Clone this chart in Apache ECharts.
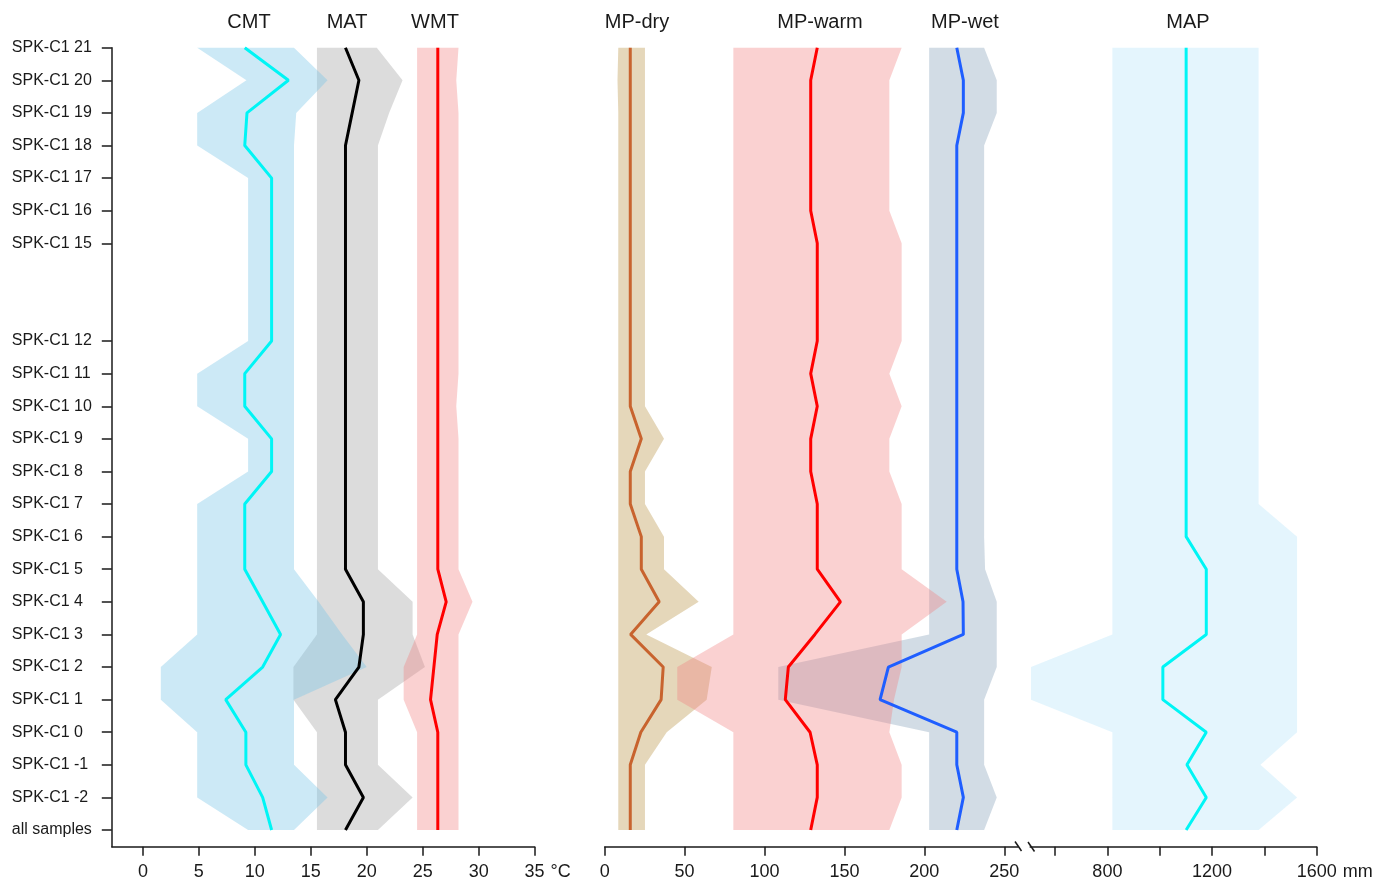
<!DOCTYPE html>
<html><head><meta charset="utf-8">
<script src="https://cdn.jsdelivr.net/npm/echarts@6/dist/echarts.min.js"></script>
<style>html,body{margin:0;padding:0;background:#fff}#c{width:1387px;height:882px}</style>
</head><body><div id="c"></div>
<script>
// sample positions (-3 = "all samples")
const depths = [21,20,19,18,17,16,15,12,11,10,9,8,7,6,5,4,3,2,1,0,-1,-2,-3];
const sampleLabels = ['SPK-C1 21','SPK-C1 20','SPK-C1 19','SPK-C1 18','SPK-C1 17','SPK-C1 16','SPK-C1 15','SPK-C1 12','SPK-C1 11','SPK-C1 10','SPK-C1 9','SPK-C1 8','SPK-C1 7','SPK-C1 6','SPK-C1 5','SPK-C1 4','SPK-C1 3','SPK-C1 2','SPK-C1 1','SPK-C1 0','SPK-C1 -1','SPK-C1 -2','all samples'];

// temperature (°C)
const cmtMean = [9.1,13.0,9.3,9.1,11.5,11.5,11.5,11.5,9.1,9.1,11.5,11.5,9.1,9.1,9.1,10.7,12.3,10.7,7.4,9.2,9.2,10.7,11.5];
const cmtLow  = [4.85,9.25,4.85,4.85,9.4,9.4,9.4,9.4,4.85,4.85,9.4,9.4,4.85,4.85,4.85,4.85,4.85,1.6,1.6,4.85,4.85,4.85,9.4];
const cmtHigh = [13.5,16.5,13.7,13.5,13.5,13.5,13.5,13.5,13.5,13.5,13.5,13.5,13.5,13.5,13.5,15.7,17.8,20.0,13.5,13.5,13.5,16.5,13.5];
const matMean = [18.1,19.3,18.7,18.1,18.1,18.1,18.1,18.1,18.1,18.1,18.1,18.1,18.1,18.1,18.1,19.7,19.7,19.3,17.2,18.1,18.1,19.7,18.1];
const matLow  = [15.55,15.55,15.55,15.55,15.55,15.55,15.55,15.55,15.55,15.55,15.55,15.55,15.55,15.55,15.55,15.55,15.55,13.45,13.45,15.55,15.55,15.55,15.55];
const matHigh = [20.9,23.2,22.0,21.0,21.0,21.0,21.0,21.0,21.0,21.0,21.0,21.0,21.0,21.0,21.0,24.1,24.1,25.2,21.0,21.0,21.0,24.1,21.0];
const wmtMean = [26.35,26.35,26.35,26.35,26.35,26.35,26.35,26.35,26.35,26.35,26.35,26.35,26.35,26.35,26.35,27.1,26.3,26.0,25.7,26.35,26.35,26.35,26.35];
const wmtLow  = [24.5,24.5,24.5,24.5,24.5,24.5,24.5,24.5,24.5,24.5,24.5,24.5,24.5,24.5,24.5,24.5,24.5,23.3,23.3,24.5,24.5,24.5,24.5];
const wmtHigh = [28.2,28.0,28.2,28.2,28.2,28.2,28.2,28.2,28.2,28.0,28.2,28.2,28.2,28.2,28.2,29.45,28.2,28.2,28.2,28.2,28.2,28.2,28.2];

// precipitation (mm)
const dryMean = [16,16,16,16,16,16,16,16,16,16,22.9,16,16,22.9,22.9,34.1,16.2,36.6,35.3,22.6,16,16,16];
const dryLow  = [8.5,8.0,8.5,8.5,8.5,8.5,8.5,8.5,8.5,8.5,8.5,8.5,8.5,8.5,8.5,8.5,8.5,8.5,8.5,8.5,8.5,8.5,8.5];
const dryHigh = [25.2,25.2,25.2,25.2,25.2,25.2,25.2,25.2,25.2,25.2,37.1,25.2,25.2,37.1,37.1,58.8,26.0,67.0,63.8,38.8,25.2,25.2,25.2];
const warmMean = [133,128.9,128.9,128.9,128.9,128.9,133,133,128.9,133,128.9,128.9,133,133,133,147.5,131.5,114.9,113,128.5,133,133,128.9];
const warmLow  = [80.5,80.5,80.5,80.5,80.5,80.5,80.5,80.5,80.5,80.5,80.5,80.5,80.5,80.5,80.5,80.5,80.5,45.4,45.4,80.5,80.5,80.5,80.5];
const warmHigh = [185.8,178.1,178.1,178.1,178.1,178.1,185.8,185.8,178.1,185.8,178.1,178.1,185.8,185.8,185.8,214.0,185.8,185.8,181,178.1,185.8,185.8,178.1];
const wetMean = [220.3,224.4,224.4,220.3,220.3,220.3,220.3,220.3,220.3,220.3,220.3,220.3,220.3,220.3,220.3,224.2,224.4,177.5,172.3,220.3,220.3,224.4,220.3];
const wetLow  = [203,203,203,203,203,203,203,203,203,203,203,203,203,203,203,203,203,108.6,108.6,203,203,203,203];
const wetHigh = [237.4,245.3,245.3,237.4,237.4,237.4,237.4,237.4,237.4,237.4,237.4,237.4,237.4,237.4,238,245.3,245.3,245.3,237.4,237.4,237.4,245.3,237.4];
const mapMean = [1101,1101,1101,1101,1101,1101,1101,1101,1101,1101,1101,1101,1101,1101,1178,1178,1178,1012,1012,1178,1104,1178,1101];
const mapLow  = [819,819,819,819,819,819,819,819,819,819,819,819,819,819,819,819,819,508,508,819,819,819,819];
const mapHigh = [1378,1378,1378,1378,1378,1378,1378,1378,1378,1378,1378,1378,1378,1525,1525,1525,1525,1525,1525,1525,1385,1525,1378];

const tempTicks = [0,5,10,15,20,25,30,35];
const mpTicks = [0,50,100,150,200,250];
const mapTicks = [600,800,1000,1200,1400,1600];
const mapLabels = [800,1200,1600];

const FONT = '"Liberation Sans", Arial, sans-serif';
const AX = '#1a1a1a';

function band(lo, hi, color, gi, z) {
  return {
    type: 'custom', xAxisIndex: gi, yAxisIndex: gi, silent: true, z: z,
    data: [[lo[0], depths[0]]],
    renderItem: function (params, api) {
      if (params.dataIndex !== 0) return;
      const pts = [];
      for (let i = 0; i < depths.length; i++) pts.push(api.coord([lo[i], depths[i]]));
      for (let i = depths.length - 1; i >= 0; i--) pts.push(api.coord([hi[i], depths[i]]));
      return { type: 'polygon', shape: { points: pts }, style: { fill: color } };
    }
  };
}
function line(vals, color, gi) {
  return {
    type: 'line', xAxisIndex: gi, yAxisIndex: gi, silent: true, z: 5,
    data: depths.map((d, i) => [vals[i], d]),
    symbol: 'none', lineStyle: { color: color, width: 3 }
  };
}
function xAxis(gi, min, max, ticks, labels, name, gap) {
  return {
    gridIndex: gi, type: 'value', min: min, max: max, position: 'bottom',
    axisLine: { show: true, onZero: false, lineStyle: { color: AX, width: 1.5 } },
    axisTick: { show: true, length: 9, customValues: ticks, lineStyle: { color: AX, width: 1.5 } },
    axisLabel: { customValues: labels, fontSize: 18, color: AX, margin: 16, fontFamily: FONT,
      formatter: function (v) { return String(v); } },
    splitLine: { show: false },
    name: name, nameLocation: 'end', nameGap: gap,
    nameTextStyle: { fontSize: 18, color: AX, fontFamily: FONT, verticalAlign: 'top', padding: [16, 0, 0, 0] }
  };
}
const yMin = -3.512, yMax = 21;
function yAxis(gi, show) {
  return {
    gridIndex: gi, type: 'value', min: yMin, max: yMax, show: show,
    axisLine: { show: true, onZero: false, lineStyle: { color: AX, width: 1.5 } },
    axisTick: { show: true, length: 10, customValues: depths, lineStyle: { color: AX, width: 1.5 } },
    axisLabel: {
      customValues: depths, align: 'left', margin: 100, fontSize: 16, color: AX, fontFamily: FONT,
      formatter: function (v) { const i = depths.indexOf(Math.round(v)); return i >= 0 ? sampleLabels[i] : ''; }
    },
    splitLine: { show: false }
  };
}
function title(t, x) {
  return { type: 'text', x: x, y: 22, style: { text: t, font: '20px ' + FONT, fill: AX, align: 'center', verticalAlign: 'middle' } };
}

const chart = echarts.init(document.getElementById('c'), null, { renderer: 'canvas' });
chart.setOption({
  animation: false,
  backgroundColor: '#fff',
  grid: [
    { left: 111.8, right: 852.4, top: 47.7, bottom: 35.3, containLabel: false, outerBoundsMode: 'none' },
    { left: 604.7, right: 369, top: 47.7, bottom: 35.3, containLabel: false, outerBoundsMode: 'none' },
    { left: 1030.2, right: 70.3, top: 47.7, bottom: 35.3, containLabel: false, outerBoundsMode: 'none' }
  ],
  xAxis: [
    xAxis(0, -2.78, 35, tempTicks, tempTicks, '°C', 16),
    xAxis(1, 0, 258.6, mpTicks, mpTicks, '', 0),
    xAxis(2, 505, 1600, mapTicks, mapLabels, 'mm', 26)
  ],
  yAxis: [yAxis(0, true), yAxis(1, false), yAxis(2, false)],
  series: [
    band(matLow, matHigh, 'rgba(155,155,155,0.35)', 0, 1),
    band(cmtLow, cmtHigh, 'rgba(120,196,232,0.38)', 0, 2),
    band(wmtLow, wmtHigh, 'rgba(240,128,128,0.36)', 0, 3),
    band(dryLow, dryHigh, 'rgba(184,144,64,0.36)', 1, 1),
    band(wetLow, wetHigh, 'rgba(129,158,184,0.36)', 1, 2),
    band(warmLow, warmHigh, 'rgba(240,128,128,0.36)', 1, 3),
    band(mapLow, mapHigh, 'rgba(178,226,249,0.35)', 2, 1),
    line(cmtMean, '#00f5f5', 0),
    line(matMean, '#000000', 0),
    line(wmtMean, '#ff0000', 0),
    line(dryMean, '#c8632e', 1),
    line(warmMean, '#ff0000', 1),
    line(wetMean, '#1f5eff', 1),
    line(mapMean, '#00f5f5', 2)
  ],
  graphic: [
    title('CMT', 249), title('MAT', 347), title('WMT', 435),
    title('MP-dry', 637), title('MP-warm', 820), title('MP-wet', 965), title('MAP', 1188),
    { type: 'line', shape: { x1: 1015, y1: 841.5, x2: 1021.5, y2: 851 }, style: { stroke: AX, lineWidth: 1.5 } },
    { type: 'line', shape: { x1: 1028, y1: 842, x2: 1034.5, y2: 851.5 }, style: { stroke: AX, lineWidth: 1.5 } }
  ]
});
</script></body></html>
